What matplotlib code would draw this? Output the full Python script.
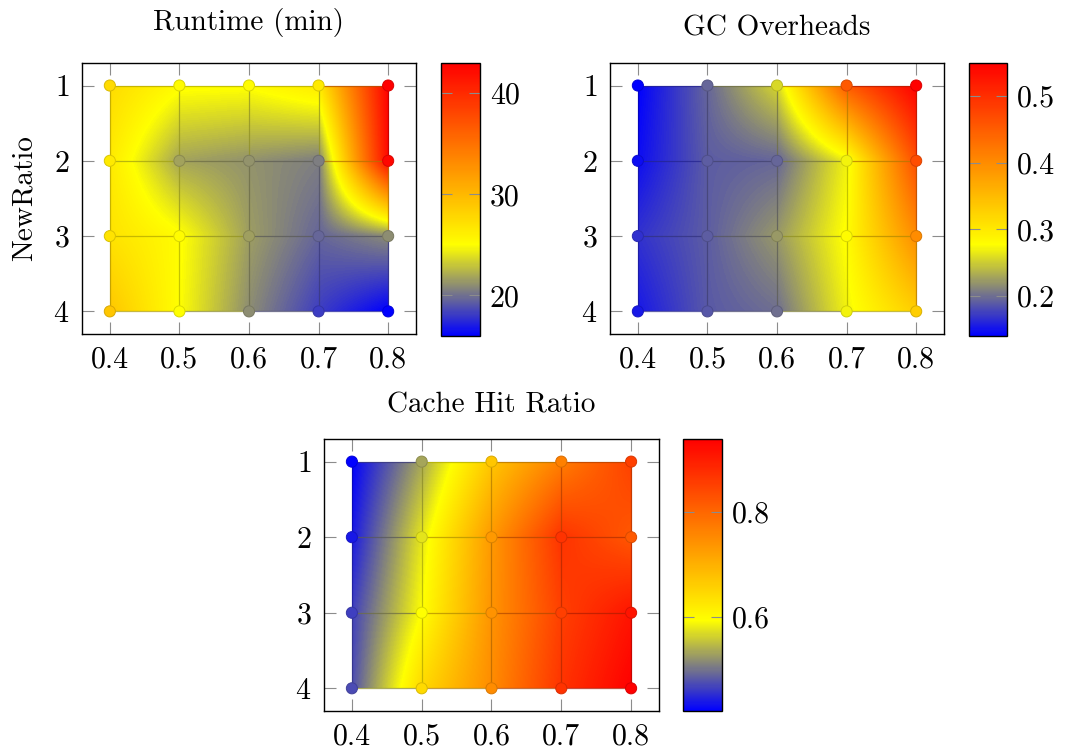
import numpy as np
import matplotlib
matplotlib.use("Agg")
import matplotlib.pyplot as plt
from matplotlib.colors import LinearSegmentedColormap, Normalize
from matplotlib.collections import LineCollection
from matplotlib.patches import Rectangle

# grid: x = survivor ratio, y = NewRatio (rows)
ratio = [0.4, 0.5, 0.6, 0.7, 0.8]
new_ratio = [1, 2, 3, 4]

runtime = [[27.5, 25.3, 25.2, 26.5, 43.0],
           [26.5, 21.8, 21.2, 20.5, 42.5],
           [27.0, 25.2, 21.6, 19.6, 21.0],
           [29.0, 25.0, 21.0, 18.2, 16.0]]

gc_overheads = [[0.140, 0.195, 0.256, 0.454, 0.550],
                [0.147, 0.190, 0.195, 0.270, 0.467],
                [0.167, 0.190, 0.222, 0.280, 0.400],
                [0.153, 0.188, 0.200, 0.270, 0.330]]

cache_hit = [[0.420, 0.533, 0.670, 0.767, 0.853],
             [0.437, 0.576, 0.732, 0.870, 0.820],
             [0.463, 0.593, 0.739, 0.853, 0.912],
             [0.472, 0.645, 0.750, 0.870, 0.940]]

runtime_ticks = [20, 30, 40]
gc_ticks = [0.2, 0.3, 0.4, 0.5]
cache_ticks = [0.6, 0.8]

plt.rcParams.update({
    "font.family": "cmr10",
    "mathtext.fontset": "cm",
    "axes.formatter.use_mathtext": True,
    "font.size": 21.5,
    "axes.linewidth": 1.0,
})

# pgfplots "hot" colormap
hot = LinearSegmentedColormap.from_list(
    "pgf_hot", [(0, 0, 1), (1, 1, 0), (1, 0.5, 0), (1, 0, 0)])


def surf(ax, cax, values, title, ticks, title_pad):
    Z = np.asarray(values, dtype=float)
    x = np.asarray(ratio)
    y = np.asarray(new_ratio, dtype=float)
    norm = Normalize(Z.min(), Z.max())
    dx = (x[1] - x[0]) / 2
    dy = (y[1] - y[0]) / 2

    im = ax.imshow(Z, cmap=hot, norm=norm, origin="upper", aspect="auto",
                   extent=[x[0] - dx, x[-1] + dx, y[-1] + dy, y[0] - dy],
                   interpolation="bilinear", interpolation_stage="data",
                   zorder=1)
    im.set_clip_path(Rectangle((x[0], y[0]), x[-1] - x[0], y[-1] - y[0],
                               transform=ax.transData))

    # mesh lines, coloured by the mapped value and darkened
    segs, mids = [], []
    for i in range(len(y)):
        for j in range(len(x) - 1):
            segs.append([(x[j], y[i]), (x[j + 1], y[i])])
            mids.append((Z[i, j] + Z[i, j + 1]) / 2)
    for i in range(len(y) - 1):
        for j in range(len(x)):
            segs.append([(x[j], y[i]), (x[j], y[i + 1])])
            mids.append((Z[i, j] + Z[i + 1, j]) / 2)
    lc_cols = hot(norm(np.array(mids)))
    lc_cols[:, :3] *= 0.7
    lc_cols[:, 3] = 0.75
    ax.add_collection(LineCollection(segs, colors=lc_cols, linewidths=0.9,
                                     zorder=2))

    X, Y = np.meshgrid(x, y)
    edge = hot(norm(Z.ravel()))
    edge[:, :3] *= 0.85
    ax.scatter(X.ravel(), Y.ravel(), c=Z.ravel(), cmap=hot, norm=norm,
               s=64, edgecolors=edge, linewidths=0.7, zorder=3, clip_on=False)

    ax.set_xlim(0.36, 0.84)
    ax.set_ylim(4.3, 0.7)
    ax.set_xticks(ratio)
    ax.set_yticks(new_ratio)
    ax.set_xticklabels(["%.1f" % v for v in ratio])
    ax.tick_params(direction="in", length=8.5, width=0.8, color="0.55",
                   top=True, right=True, pad=9)
    ax.set_title(title, pad=title_pad, fontsize=21)

    cb = plt.colorbar(im, cax=cax, ticks=ticks)
    cb.outline.set_linewidth(1.0)
    cax.tick_params(direction="in", length=8, width=0.8, color="0.55",
                    left=True, right=True, labelleft=False, pad=7)
    cax.set_yticklabels([("%g" % t) for t in ticks])
    return im


fig = plt.figure(figsize=(10.65, 7.51), dpi=100)
ax1 = fig.add_axes([0.0770, 0.5553, 0.3136, 0.3609])
cb1 = fig.add_axes([0.4141, 0.5527, 0.0366, 0.3635])
ax2 = fig.add_axes([0.5728, 0.5553, 0.3136, 0.3609])
cb2 = fig.add_axes([0.9099, 0.5527, 0.0357, 0.3635])
ax3 = fig.add_axes([0.3042, 0.0533, 0.3146, 0.3622])
cb3 = fig.add_axes([0.6413, 0.0533, 0.0366, 0.3622])

surf(ax1, cb1, runtime, "Runtime (min)", runtime_ticks, 23.5)
surf(ax2, cb2, gc_overheads, "GC Overheads", gc_ticks, 19.5)
surf(ax3, cb3, cache_hit, "Cache Hit Ratio", cache_ticks, 18.7)

ax1.set_ylabel("NewRatio", labelpad=11, fontsize=21)

fig.savefig("out.png", dpi=100)
